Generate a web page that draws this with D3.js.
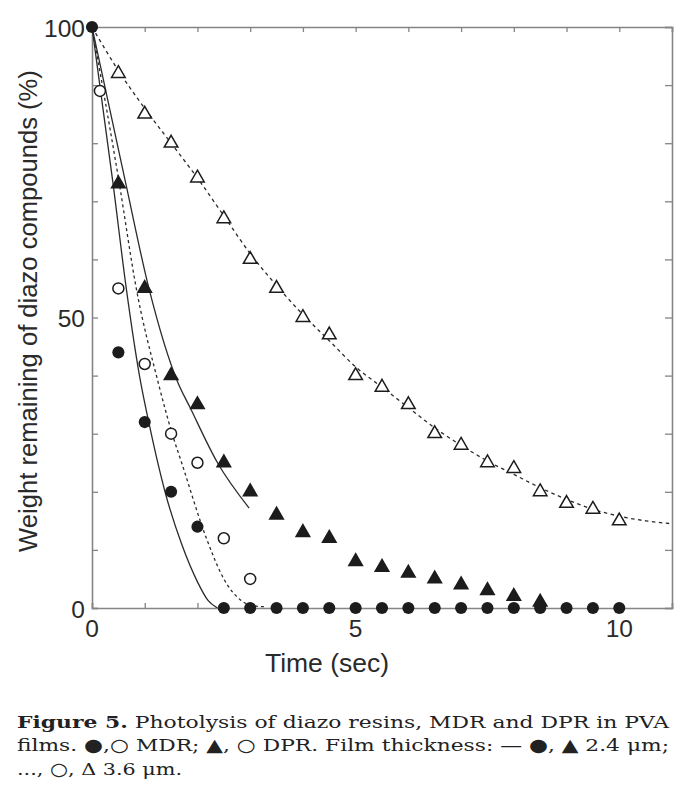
<!DOCTYPE html>
<html>
<head>
<meta charset="utf-8">
<script src="https://cdn.jsdelivr.net/npm/d3@7"></script>
<style>
  body { margin: 0; background: #fff; }
  svg { display: block; }
</style>
</head>
<body>
<div id="chart"></div>
<script>
// ---- data ----
// time (sec) and weight remaining (%) for each series
var mdrThinT = [0, 0.5, 1, 1.5, 2, 2.5, 3, 3.5, 4, 4.5, 5, 5.5, 6, 6.5, 7, 7.5, 8, 8.5, 9, 9.5, 10];
var mdrThinV = [100, 44, 32, 20, 14, 0, 0, 0, 0, 0, 0, 0, 0, 0, 0, 0, 0, 0, 0, 0, 0];

var mdrThickT = [0.15, 0.5, 1, 1.5, 2, 2.5, 3];
var mdrThickV = [89, 55, 42, 30, 25, 12, 5];

var dprThinT = [0.5, 1, 1.5, 2, 2.5, 3, 3.5, 4, 4.5, 5, 5.5, 6, 6.5, 7, 7.5, 8, 8.5];
var dprThinV = [73, 55, 40, 35, 25, 20, 16, 13, 12, 8, 7, 6, 5, 4, 3, 2, 1];

var dprThickT = [0.5, 1, 1.5, 2, 2.5, 3, 3.5, 4, 4.5, 5, 5.5, 6, 6.5, 7, 7.5, 8, 8.5, 9, 9.5, 10];
var dprThickV = [92, 85, 80, 74, 67, 60, 55, 50, 47, 40, 38, 35, 30, 28, 25, 24, 20, 18, 17, 15];

// fitted curves, points
var fitMdrThinT = [0, 0.4, 0.65, 0.9, 1.1, 1.4, 1.7, 2.0, 2.2, 2.38];
var fitMdrThinV = [100, 73, 55, 40, 31, 19.5, 11, 4.5, 1.3, 0];

var fitMdrThickT = [0, 0.51, 0.84, 1.25, 1.52, 1.7, 2.17, 2.5, 2.8, 3.0, 3.3];
var fitMdrThickV = [100, 73.5, 55, 39, 30, 25, 12, 5, 1.5, 0.5, 0.2];

var fitDprThinT = [0, 0.63, 1.08, 1.62, 1.86, 2.38, 2.98];
var fitDprThinV = [100, 73.5, 55, 39, 34.5, 25, 17.2];

var fitDprThickT = [0, 0.5, 1, 1.5, 2, 2.5, 3, 3.5, 4, 4.5, 5, 5.5, 6, 6.5, 7, 7.5, 8, 8.5, 9, 9.5, 10, 10.5, 11];
var fitDprThickV = [100, 92.5, 86, 80, 74, 67.5, 61, 55.5, 50.5, 46, 41.5, 38, 34.5, 31, 28, 25.3, 23, 20.7, 18.7, 17, 15.8, 15, 14.5];

var xLabelTicks = [0, 5, 10];
var yLabelTicks = [0, 50, 100];

var captionLines = [
    ["Figure 5.", " Photolysis of diazo resins, MDR and DPR in PVA"],
    ["", "films. \u25CF,\u25CB MDR; \u25B2, \u25CB DPR. Film thickness: \u2014 \u25CF, \u25B2 2.4 \u03BCm;"],
    ["", "..., \u25CB, \u0394 3.6 \u03BCm."]
];
var captionWidths = [652, 652, 165];

function zip(t, v) {
    return t.map(function(d, i) { return { t: d, v: v[i] }; });
}

var W = 697, H = 788;
var svg = d3.select("#chart").append("svg")
    .attr("width", W)
    .attr("height", H);

var x = d3.scaleLinear().domain([0, 11]).range([92, 672]);
var y = d3.scaleLinear().domain([0, 100]).range([608, 27]);

var axisColor = "#858585";
var inkColor = "#1c1c1c";

// clip for curves
svg.append("defs").append("clipPath")
    .attr("id", "plotclip")
    .append("rect")
    .attr("x", x(0)).attr("y", y(100))
    .attr("width", x(11) - x(0)).attr("height", y(0) - y(100));

// frame with inward ticks on all sides
var frame = svg.append("g").attr("class", "frame");

var xAxisB = d3.axisBottom(x).tickValues(d3.range(0, 12)).tickSize(-5).tickFormat("");
var xAxisT = d3.axisTop(x).tickValues(d3.range(0, 12)).tickSize(-5).tickFormat("");
var yAxisL = d3.axisLeft(y).tickValues(d3.range(0, 101, 10)).tickSize(-6).tickFormat("");
var yAxisR = d3.axisRight(y).tickValues(d3.range(0, 101, 10)).tickSize(-7).tickFormat("");

frame.append("g").attr("transform", "translate(0," + y(0) + ")").call(xAxisB);
frame.append("g").attr("transform", "translate(0," + y(100) + ")").call(xAxisT);
frame.append("g").attr("transform", "translate(" + x(0) + ",0)").call(yAxisL);
frame.append("g").attr("transform", "translate(" + x(11) + ",0)").call(yAxisR);

frame.selectAll(".domain")
    .attr("stroke", axisColor)
    .attr("stroke-width", 1.6);
frame.selectAll(".tick line")
    .attr("stroke", axisColor)
    .attr("stroke-width", 1.3);

// tick labels
svg.append("g").selectAll("text")
    .data(xLabelTicks)
    .enter().append("text")
    .attr("x", function(d) { return x(d); })
    .attr("y", 637)
    .attr("text-anchor", "middle")
    .attr("font-family", "'Liberation Sans', Arial, sans-serif")
    .attr("font-size", 24.5)
    .attr("fill", "#2a2a2a")
    .text(function(d) { return d; });

svg.append("g").selectAll("text")
    .data(yLabelTicks)
    .enter().append("text")
    .attr("x", 85)
    .attr("y", function(d) { return y(d) + 9.5; })
    .attr("text-anchor", "end")
    .attr("font-family", "'Liberation Sans', Arial, sans-serif")
    .attr("font-size", 24.5)
    .attr("fill", "#2a2a2a")
    .text(function(d) { return d; });

// axis titles
svg.append("text")
    .attr("x", 327)
    .attr("y", 672)
    .attr("text-anchor", "middle")
    .attr("font-family", "'Liberation Sans', Arial, sans-serif")
    .attr("font-size", 26.5)
    .attr("fill", "#2a2a2a")
    .text("Time (sec)");

svg.append("text")
    .attr("transform", "translate(37,311) rotate(-90)")
    .attr("text-anchor", "middle")
    .attr("font-family", "'Liberation Sans', Arial, sans-serif")
    .attr("font-size", 25.6)
    .attr("fill", "#2a2a2a")
    .text("Weight remaining of diazo compounds (%)");

// curves
var line = d3.line()
    .x(function(d) { return x(d.t); })
    .y(function(d) { return y(d.v); })
    .curve(d3.curveMonotoneX);

var curves = [
    { pts: zip(fitMdrThinT, fitMdrThinV), dash: null },
    { pts: zip(fitMdrThickT, fitMdrThickV), dash: "3,3" },
    { pts: zip(fitDprThinT, fitDprThinV), dash: null },
    { pts: zip(fitDprThickT, fitDprThickV), dash: "3.5,3.5" }
];

svg.append("g")
    .attr("clip-path", "url(#plotclip)")
    .selectAll("path")
    .data(curves)
    .enter().append("path")
    .attr("d", function(d) { return line(d.pts); })
    .attr("fill", "none")
    .attr("stroke", "#2b2b2b")
    .attr("stroke-width", 1.3)
    .attr("stroke-dasharray", function(d) { return d.dash; });

// markers
var circleSym = d3.symbol().type(d3.symbolCircle);
var triSym = d3.symbol().type(d3.symbolTriangle);

var markerSets = [
    { pts: zip(dprThickT, dprThickV), sym: triSym.size(80)(), fill: "#fff", stroke: inkColor },
    { pts: zip(mdrThickT, mdrThickV), sym: circleSym.size(95)(), fill: "#fff", stroke: inkColor },
    { pts: zip(dprThinT, dprThinV), sym: triSym.size(80)(), fill: inkColor, stroke: inkColor },
    { pts: zip(mdrThinT, mdrThinV), sym: circleSym.size(115)(), fill: inkColor, stroke: "none" }
];

markerSets.forEach(function(set) {
    svg.append("g").selectAll("path")
        .data(set.pts)
        .enter().append("path")
        .attr("d", set.sym)
        .attr("transform", function(d) { return "translate(" + x(d.t) + "," + y(d.v) + ")"; })
        .attr("fill", set.fill)
        .attr("stroke", set.stroke)
        .attr("stroke-width", 1.5);
});

// caption
var cap = svg.append("g")
    .attr("font-family", "'DejaVu Serif', 'Liberation Serif', serif")
    .attr("font-size", 17.5)
    .attr("fill", "#222");

captionLines.forEach(function(l, i) {
    var t = cap.append("text")
        .attr("x", 17)
        .attr("y", 728 + i * 23.3)
        .attr("textLength", captionWidths[i])
        .attr("lengthAdjust", "spacingAndGlyphs");
    if (l[0]) t.append("tspan").attr("font-weight", "bold").text(l[0]);
    t.append("tspan").text(l[1]);
});
</script>
</body>
</html>
